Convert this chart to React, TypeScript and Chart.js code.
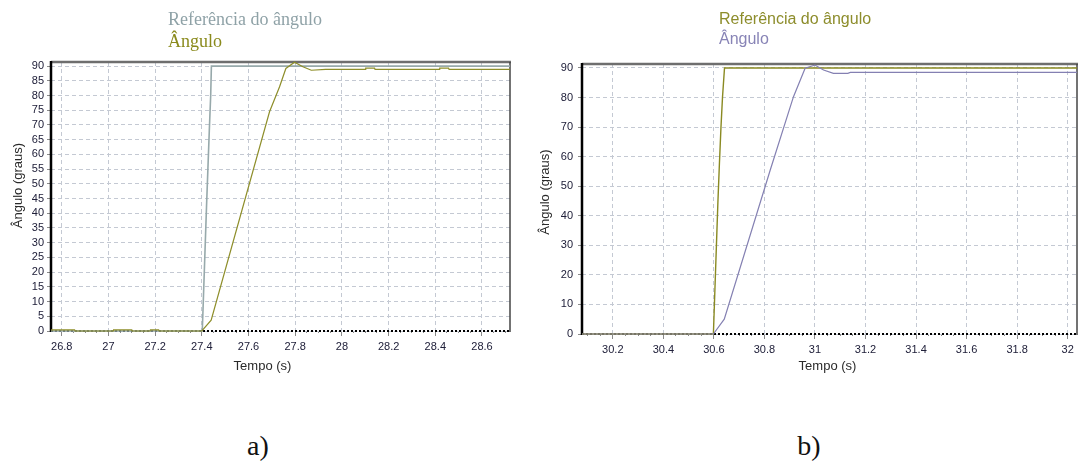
import React, { useEffect, useRef } from 'react';
import { Chart, registerables } from 'chart.js';

Chart.register(...registerables);

// ---- a) step near 27.4 s ----
const timeRefA = [26.754, 27.402, 27.408, 27.414, 27.42, 27.426, 27.432, 27.438, 27.441, 28.72];
const refA = [0, 0, 14, 28, 42, 55, 68, 80, 90, 90];
const timeAngA = [
  26.754, 26.855, 26.857, 27.02, 27.022, 27.1, 27.102, 27.178, 27.18, 27.215, 27.217, 27.4,
  27.44, 27.69, 27.733, 27.76, 27.797, 27.833, 27.869, 27.93, 28.1, 28.102, 28.14, 28.142,
  28.417, 28.419, 28.457, 28.459, 28.72,
];
const angA = [
  0.4, 0.4, 0, 0, 0.4, 0.4, 0, 0, 0.4, 0.4, 0, 0,
  3.7, 74.5, 83, 89.2, 91.3, 89.8, 88.6, 88.9, 88.9, 89.3, 89.3, 88.9,
  88.9, 89.3, 89.3, 88.9, 88.9,
];

// ---- b) step near 30.6 s ----
const timeRefB = [30.078, 30.598, 30.604, 30.61, 30.616, 30.622, 30.628, 30.634, 30.642, 32.037];
const refB = [0, 0, 15, 30, 45, 58, 70, 80, 90, 90];
const timeAngB = [30.078, 30.598, 30.641, 30.823, 30.915, 30.961, 31.0, 31.034, 31.073, 31.13, 31.14, 32.037];
const angB = [0, 0, 5, 55.5, 80.3, 89.9, 91, 89.3, 88.2, 88.2, 88.5, 88.5];

// axis ranges and labels
const xRangeA = [26.754, 28.72];
const xRangeB = [30.078, 32.037];
const yMaxA = 91.4;
const yMaxB = 91.35;
const yStepA = 5;
const yStepB = 10;
const seriesLabels = ['Referência do ângulo', 'Ângulo'];
const xTitle = 'Tempo (s)';
const yTitle = 'Ângulo (graus)';
const captions = ['a)', 'b)'];

const GRID = '#c4c9d3';
const TICK_TEXT = '#20203a';
const TITLE_TEXT = '#2a2a2a';
const TICK_MARK = '#8a8a8a';
const SANS = '"Liberation Sans", Arial, sans-serif';

const pts = (t: number[], v: number[]) => t.map((x, i) => ({ x, y: v[i] }));
const isMajor = (v: number) => Math.abs(v * 5 - Math.round(v * 5)) < 1e-6;

// Plot frame: dark left axis, grey top, thin right edge, dashed black baseline
const framePlugin = {
  id: 'frame',
  beforeDatasetsDraw(chart: any) {
    const { ctx, chartArea } = chart;
    const { left, top, right, bottom } = chartArea;
    const seg = (x1: number, y1: number, x2: number, y2: number) => {
      ctx.beginPath();
      ctx.moveTo(x1, y1);
      ctx.lineTo(x2, y2);
      ctx.stroke();
    };
    ctx.save();
    ctx.strokeStyle = '#000';
    ctx.lineWidth = 2;
    ctx.setLineDash([2, 2]);
    seg(left, bottom, right, bottom);
    ctx.setLineDash([]);
    ctx.strokeStyle = '#6e6e6e';
    ctx.lineWidth = 2.5;
    seg(left, top, right + 1, top);
    ctx.strokeStyle = '#454545';
    ctx.lineWidth = 1.5;
    seg(right, top, right, bottom + 1);
    ctx.strokeStyle = '#000';
    ctx.lineWidth = 2.5;
    seg(left, top - 1, left, bottom + 1);
    ctx.restore();
  },
};

// Axis titles, placed relative to the plot area centre
const axisTitles = {
  id: 'axisTitles',
  afterDraw(chart: any, _args: any, opts: any) {
    const { ctx, chartArea } = chart;
    const { left, right, top, bottom } = chartArea;
    ctx.save();
    ctx.font = `13px ${SANS}`;
    ctx.fillStyle = TITLE_TEXT;
    ctx.textAlign = 'center';
    ctx.textBaseline = 'middle';
    ctx.fillText(opts.x, (left + right) / 2 + opts.xDx, bottom + opts.xDy);
    ctx.translate(opts.yX, (top + bottom) / 2 + opts.yDy);
    ctx.rotate(-Math.PI / 2);
    ctx.fillText(opts.y, 0, 0);
    ctx.restore();
  },
};

// Legend: dataset labels stacked, written in the dataset colour
const stackedLegend = {
  id: 'stackedLegend',
  afterDraw(chart: any, _args: any, opts: any) {
    const { ctx } = chart;
    ctx.save();
    ctx.font = opts.font;
    ctx.textAlign = 'left';
    ctx.textBaseline = 'alphabetic';
    chart.data.datasets.forEach((ds: any, i: number) => {
      ctx.fillStyle = ds.legendColor || ds.borderColor;
      ctx.fillText(ds.label, opts.x, opts.baseline + i * opts.gap);
    });
    ctx.restore();
  },
};

type Spec = {
  refT: number[];
  refV: number[];
  angT: number[];
  angV: number[];
  xRange: number[];
  yMax: number;
  yStep: number;
  refColor: string;
  angColor: string;
  refLegend: string;
  angLegend: string;
  refWidth: number;
  angWidth: number;
  legend: { x: number; baseline: number; gap: number; font: string };
  titles: { x: string; y: string; xDx: number; xDy: number; yX: number; yDy: number };
  padTop: number;
  padRight: number;
  yWidth: number;
  xHeight: number;
  yTickPad: number;
  w: number;
  h: number;
};

function buildConfig(s: Spec): any {
  const font = (size: number) => ({ family: SANS, size });
  return {
    type: 'line',
    data: {
      datasets: [
        {
          label: seriesLabels[0],
          data: pts(s.refT, s.refV),
          borderColor: s.refColor,
          legendColor: s.refLegend,
          borderWidth: s.refWidth,
          pointRadius: 0,
          tension: 0,
          clip: false,
          order: 1,
        },
        {
          label: seriesLabels[1],
          data: pts(s.angT, s.angV),
          borderColor: s.angColor,
          legendColor: s.angLegend,
          borderWidth: s.angWidth,
          pointRadius: 0,
          tension: 0,
          clip: false,
          order: 0,
        },
      ],
    },
    options: {
      responsive: false,
      animation: false,
      devicePixelRatio: 1,
      layout: { padding: { top: s.padTop, right: s.padRight, left: 0, bottom: 0 } },
      plugins: {
        legend: { display: false },
        tooltip: { enabled: false },
        stackedLegend: s.legend,
        axisTitles: s.titles,
      },
      scales: {
        x: {
          type: 'linear',
          min: s.xRange[0],
          max: s.xRange[1],
          afterFit: (sc: any) => {
            sc.height = s.xHeight;
          },
          ticks: {
            stepSize: 0.05,
            autoSkip: false,
            maxRotation: 0,
            minRotation: 0,
            includeBounds: false,
            padding: 4,
            color: TICK_TEXT,
            font: font(11),
            callback: (v: any) => (isMajor(+v) ? String(Math.round(+v * 10) / 10) : ''),
          },
          grid: {
            color: (c: any) => (c.tick && isMajor(c.tick.value) ? GRID : 'rgba(0,0,0,0)'),
            tickColor: TICK_MARK,
            tickLength: 5,
            lineWidth: 1,
            tickBorderDash: (c: any) => (c.tick && isMajor(c.tick.value) ? [] : [2, 20]),
          },
          border: { display: false, dash: [4, 3] },
        },
        y: {
          type: 'linear',
          min: 0,
          max: s.yMax,
          afterFit: (sc: any) => {
            sc.width = s.yWidth;
          },
          ticks: {
            stepSize: s.yStep,
            autoSkip: false,
            includeBounds: false,
            padding: s.yTickPad,
            color: TICK_TEXT,
            font: font(11),
          },
          grid: {
            color: GRID,
            tickColor: TICK_MARK,
            tickLength: 4,
            lineWidth: 1,
            tickBorderDash: [],
          },
          border: { display: false, dash: [4, 3] },
        },
      },
    },
    plugins: [framePlugin, stackedLegend, axisTitles],
  };
}

const specA: Spec = {
  refT: timeRefA,
  refV: refA,
  angT: timeAngA,
  angV: angA,
  xRange: xRangeA,
  yMax: yMaxA,
  yStep: yStepA,
  refColor: '#97a9ab',
  angColor: '#8e8e2a',
  refLegend: '#8fa2a7',
  angLegend: '#8a8a1c',
  refWidth: 1.6,
  angWidth: 1.2,
  legend: { x: 168, baseline: 25, gap: 22, font: '18px "Liberation Serif", "Times New Roman", serif' },
  titles: { x: xTitle, y: yTitle, xDx: -18, xDy: 35, yX: 18, yDy: -11 },
  padTop: 62,
  padRight: 30,
  yWidth: 51,
  xHeight: 64,
  yTickPad: 3,
  w: 540,
  h: 395,
};

const specB: Spec = {
  refT: timeRefB,
  refV: refB,
  angT: timeAngB,
  angV: angB,
  xRange: xRangeB,
  yMax: yMaxB,
  yStep: yStepB,
  refColor: '#8a8a22',
  angColor: '#8480b2',
  refLegend: '#8d8d2c',
  angLegend: '#8884b6',
  refWidth: 1.4,
  angWidth: 1.2,
  legend: { x: 189, baseline: 24, gap: 20, font: `16px ${SANS}` },
  titles: { x: xTitle, y: yTitle, xDx: -2, xDy: 32, yX: 15, yDy: -7 },
  padTop: 64,
  padRight: 4,
  yWidth: 52,
  xHeight: 61,
  yTickPad: 5,
  w: 551,
  h: 395,
};

function Panel({ spec, left }: { spec: Spec; left: number }) {
  const ref = useRef<HTMLCanvasElement>(null);
  useEffect(() => {
    const chart = new Chart(ref.current as HTMLCanvasElement, buildConfig(spec));
    return () => chart.destroy();
  }, [spec]);
  return (
    <canvas
      ref={ref}
      width={spec.w}
      height={spec.h}
      style={{ position: 'absolute', left, top: 0, width: spec.w, height: spec.h }}
    />
  );
}

const captionStyle = (left: number): React.CSSProperties => ({
  position: 'absolute',
  left,
  top: 430,
  width: 40,
  textAlign: 'center',
  font: '28px "Liberation Serif", "Times New Roman", serif',
  lineHeight: '32px',
  color: '#111',
});

export default function App() {
  return (
    <div
      style={{
        position: 'absolute',
        left: 0,
        top: 0,
        width: 1081,
        height: 466,
        background: '#fff',
        overflow: 'hidden',
      }}
    >
      <Panel spec={specA} left={0} />
      <Panel spec={specB} left={530} />
      <div style={captionStyle(238)}>{captions[0]}</div>
      <div style={captionStyle(789)}>{captions[1]}</div>
    </div>
  );
}
